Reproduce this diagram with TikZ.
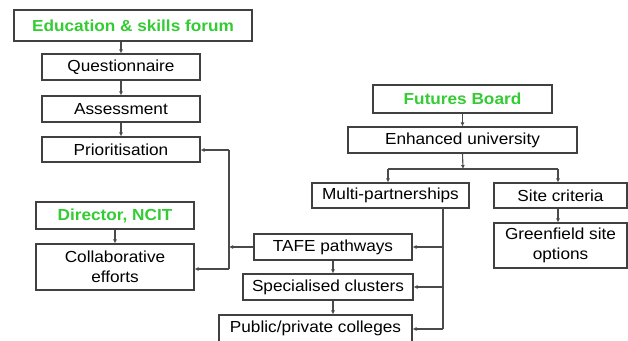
\documentclass[tikz,border=0pt]{standalone}
\usepackage{fontspec}
\setmainfont[FakeStretch=1.075]{Liberation Sans}
\usetikzlibrary{arrows.meta}
\definecolor{boxline}{HTML}{404040}
\definecolor{conn}{HTML}{4A4A4A}
\definecolor{title}{HTML}{33CC33}
\tikzset{
  box/.style={draw=boxline, line width=1.1pt, fill=white, inner sep=0pt, align=center,
    font=\fontsize{16}{20}\selectfont, text=black},
  head/.style={box, font=\fontsize{16}{20}\selectfont\bfseries, text=title},
  arr/.style={draw=conn, line width=1.1pt, -{Latex[length=4pt,width=4pt]}},
  ln/.style={draw=conn, line width=1.1pt}
}
\begin{document}
\begin{tikzpicture}[x=1pt,y=-1pt]
\useasboundingbox (0,0) rectangle (628,340);
\begin{scope}
\clip (0,0) rectangle (628,340);
% left column
\node[head, minimum width=238pt, minimum height=31pt] (edu) at (133,25.5) {Education \& skills forum};
\node[box, minimum width=158pt, minimum height=26pt] (q) at (121,67) {Questionnaire};
\node[box, minimum width=158pt, minimum height=26pt] (a) at (121,109) {Assessment};
\node[box, minimum width=158pt, minimum height=25pt] (p) at (121,149.5) {Prioritisation};
\node[head, minimum width=158pt, minimum height=27pt] (dir) at (115,215.5) {Director, NCIT};
\node[box, minimum width=158pt, minimum height=46pt] (col) at (115,267) {Collaborative\\efforts};
% right part
\node[head, minimum width=179pt, minimum height=28pt] (fb) at (462.5,99) {Futures Board};
\node[box, minimum width=229pt, minimum height=26pt] (eu) at (462.5,140) {Enhanced university};
\node[box, minimum width=157pt, minimum height=25pt] (mp) at (390.5,195.5) {Multi-partnerships};
\node[box, minimum width=133pt, minimum height=25pt] (sc) at (560.5,195.5) {Site criteria};
\node[box, minimum width=133pt, minimum height=45pt] (gs) at (560.5,245.5) {Greenfield site\\options};
\node[box, minimum width=158pt, minimum height=26pt] (tafe) at (333,247) {TAFE pathways};
\node[box, minimum width=170pt, minimum height=26pt] (spc) at (328,287) {Specialised clusters};
\node[box, minimum width=193pt, minimum height=27pt] (ppc) at (315.5,328.5) {Public/private colleges};

% left column arrows
\draw[arr] (edu.south -| q) -- (q.north);
\draw[arr] (q.south) -- (a.north);
\draw[arr] (a.south) -- (p.north);
\draw[arr] (dir.south) -- (col.north);

% feedback bus
\coordinate (vt) at (229,150);
\coordinate (vb) at (229,269);
\draw[ln] (vt) -- (vb);
\draw[arr] (vt) -- (vt -| p.east);
\draw[arr] (vb) -- (vb -| col.east);
\draw[arr] (tafe.west) -- (tafe.west -| vt);

% lower chain
\draw[arr] (tafe.south) -- (tafe.south |- spc.north);
\draw[arr] (spc.south -| tafe) -- (tafe |- ppc.north);

% futures board
\draw[arr] (fb.south) -- (eu.north);
\coordinate (jn) at (463,169);
\coordinate (jl) at (388,169);
\coordinate (jr) at (558,169);
\draw[arr] (eu.south) -- (jn);
\draw[ln] (jl) -- (jr);
\draw[arr] (jl) -- (jl |- mp.north);
\draw[arr] (jr) -- (jr |- sc.north);
\draw[arr] (sc.south -| jr) -- (jr |- gs.north);

% right bus
\coordinate (rt) at (443,208);
\coordinate (rb) at (443,329);
\draw[ln] (rt) -- (rb);
\draw[arr] (rt |- tafe.east) -- (tafe.east);
\draw[arr] (rt |- spc.east) -- (spc.east);
\draw[arr] (rb) -- (rb -| ppc.east);
\end{scope}
\end{tikzpicture}
\end{document}
